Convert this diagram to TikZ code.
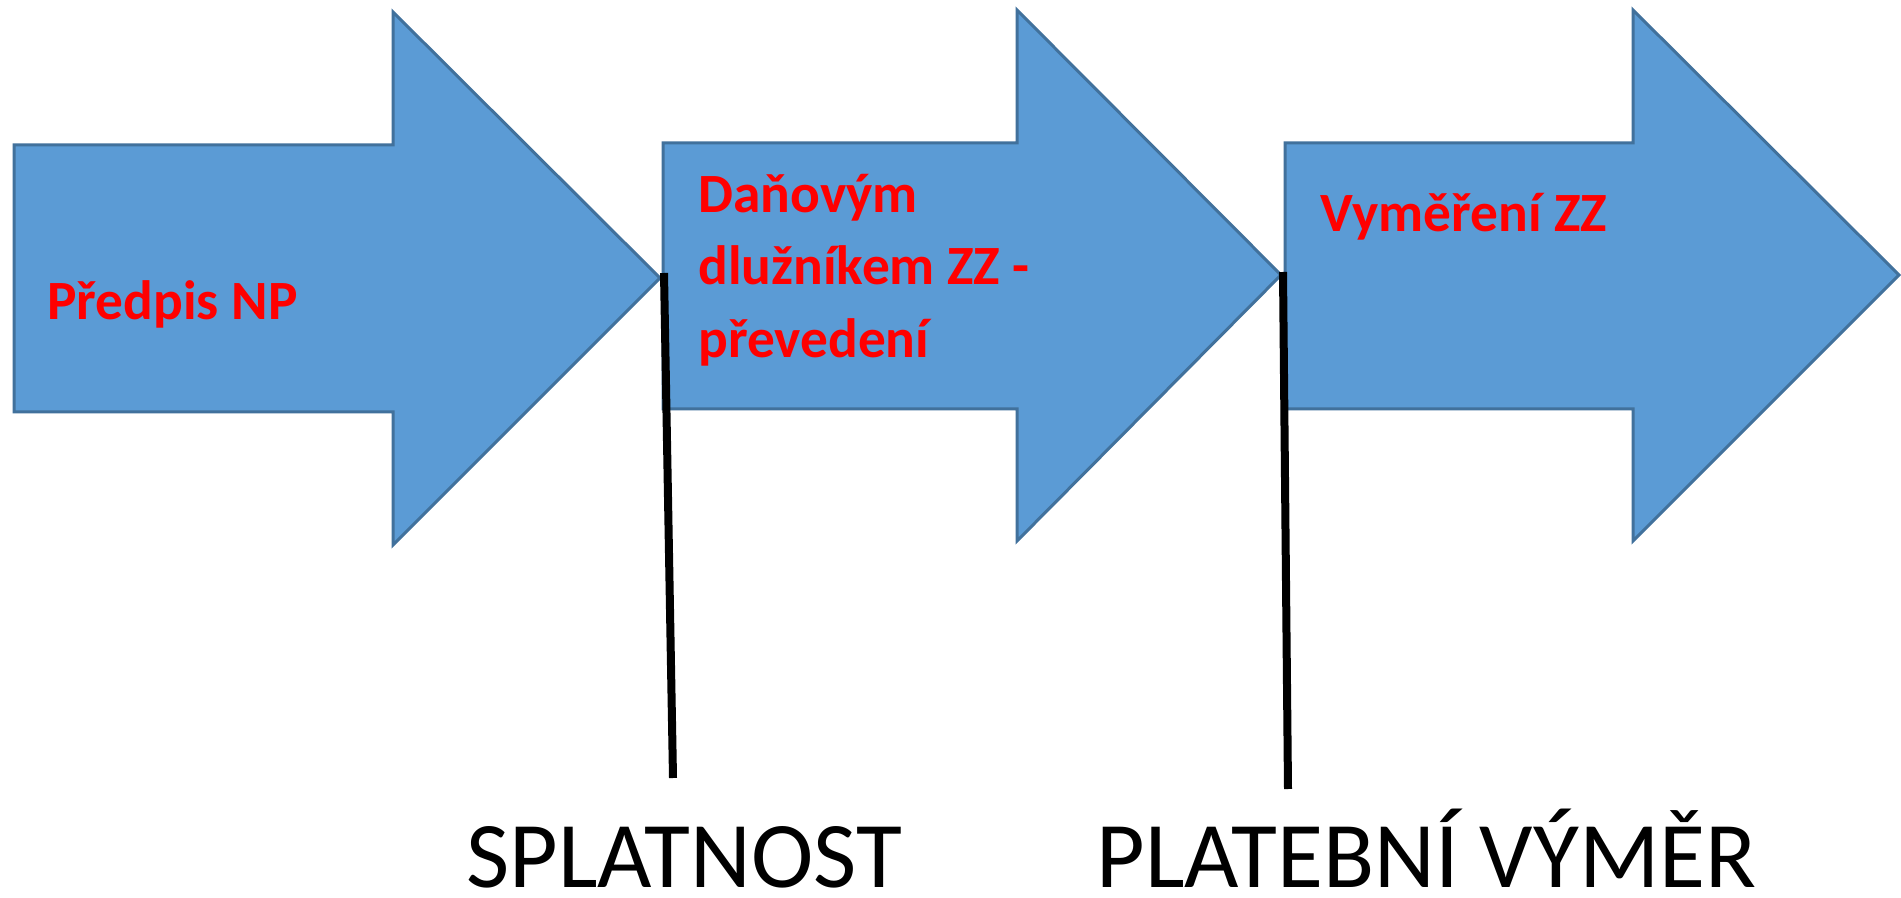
\documentclass[tikz,border=0pt]{standalone}
\usepackage{fontspec}
\setmainfont{Carlito}
\definecolor{arrowfill}{HTML}{5B9BD5}
\definecolor{arrowline}{HTML}{41719C}
\definecolor{txtred}{HTML}{FF0000}
\begin{document}
\begin{tikzpicture}[x=0.5pt,y=-0.5pt,
  bigarrow/.style={fill=arrowfill,draw=arrowline,line width=1.5pt,line join=miter},
  redlabel/.style={text=txtred,font=\fontsize{27.7pt}{36pt}\selectfont\bfseries,inner sep=0pt,anchor=base west},
  biglabel/.style={text=black,font=\fontsize{47pt}{54pt}\selectfont,inner sep=0pt,anchor=base west},
  marker/.style={draw=black,line width=4pt}]
\useasboundingbox (0,0) rectangle (1901,898);
\fill[white] (0,0) rectangle (1901,898);
% arrows
\draw[bigarrow] (14,145) -- (393,145) -- (393,12) -- (660,278) -- (393,545) -- (393,412) -- (14,412) -- cycle;
\draw[bigarrow] (663,143) -- (1017,143) -- (1017,10) -- (1281,275) -- (1017,541) -- (1017,409) -- (663,409) -- cycle;
\draw[bigarrow] (1285,143) -- (1633,143) -- (1633,10) -- (1899,275) -- (1633,541) -- (1633,409) -- (1285,409) -- cycle;
% labels
\node[redlabel] (t1) at (47,320) {Předpis NP};
\node[redlabel] (d1) at (698,213) {Daňovým};
\node[redlabel] (d2) at (698,285) {dlužníkem ZZ -};
\node[redlabel] (d3) at (698,358) {převedení};
\node[redlabel] (t3) at (1320,232) {Vyměření ZZ};
% markers
\coordinate (m1a) at (664,273);
\coordinate (m1b) at (673,778);
\coordinate (m2a) at (1283,272);
\coordinate (m2b) at (1288,789);
\draw[marker] (m1a) -- (m1b);
\draw[marker] (m2a) -- (m2b);
\node[biglabel] (s) at (466,887) {SPLATNOST};
\node[biglabel] (p) at (1096,887) {PLATEBNÍ VÝMĚR};
\end{tikzpicture}
\end{document}
